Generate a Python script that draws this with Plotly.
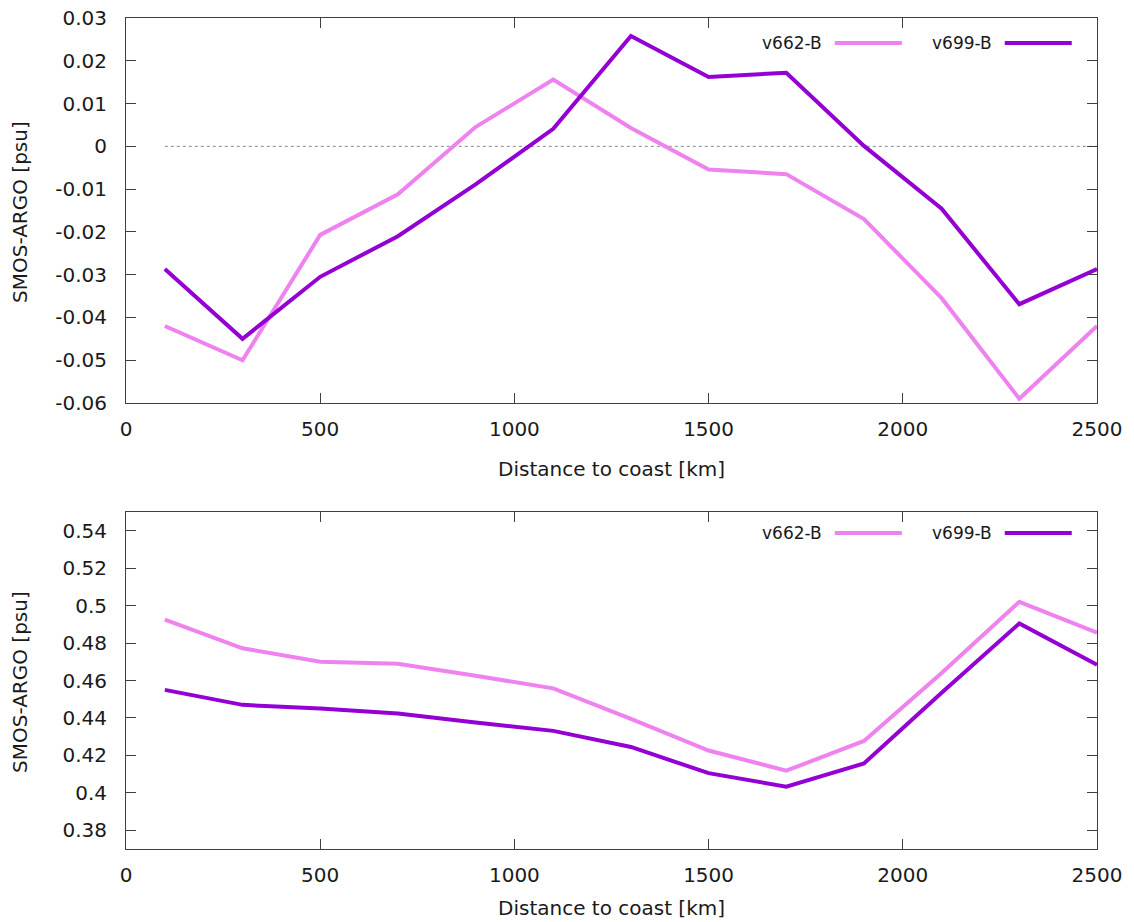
import plotly.graph_objects as go

distance_km = [100, 300, 500, 700, 900, 1100, 1300, 1500, 1700, 1900, 2100, 2300, 2500]

# Top panel: mean difference
top_v662 = [-0.0420, -0.0500, -0.0207, -0.0112, 0.0045, 0.0156, 0.0043, -0.0054, -0.0065,
            -0.0170, -0.0355, -0.0590, -0.0420]
top_v699 = [-0.0287, -0.0450, -0.0305, -0.0210, -0.0089, 0.0041, 0.0258, 0.0162, 0.0172,
            0.0001, -0.0146, -0.0369, -0.0287]

# Bottom panel
bot_v662 = [0.4925, 0.4772, 0.4700, 0.4690, 0.4625, 0.4558, 0.4395, 0.4226, 0.4118,
            0.4277, 0.4640, 0.5020, 0.4855]
bot_v699 = [0.4550, 0.4470, 0.4450, 0.4424, 0.4376, 0.4331, 0.4245, 0.4105, 0.4033,
            0.4157, 0.4535, 0.4905, 0.4684]

x_ticks = [0, 500, 1000, 1500, 2000, 2500]
x_ticktext = ["0", "500", "1000", "1500", "2000", "2500"]
top_yticks = [0.03, 0.02, 0.01, 0.0, -0.01, -0.02, -0.03, -0.04, -0.05, -0.06]
top_yticktext = ["0.03", "0.02", "0.01", "0", "-0.01", "-0.02", "-0.03", "-0.04", "-0.05", "-0.06"]
bot_yticks = [0.38, 0.40, 0.42, 0.44, 0.46, 0.48, 0.50, 0.52, 0.54]
bot_yticktext = ["0.38", "0.4", "0.42", "0.44", "0.46", "0.48", "0.5", "0.52", "0.54"]

series_names = ["v662-B", "v699-B"]
series_colors = ["#EE82EE", "#9400D3"]

FONT = "DejaVu Sans"
W, H = 1134, 922

fig = go.Figure()

# zero reference line (top panel)
fig.add_trace(go.Scatter(x=distance_km, y=[0] * len(distance_km), mode="lines",
                         line=dict(color="#888888", width=1, dash="dot"),
                         xaxis="x", yaxis="y", showlegend=False, hoverinfo="skip"))

for ys, name, col in [(top_v662, series_names[0], series_colors[0]),
                      (top_v699, series_names[1], series_colors[1])]:
    fig.add_trace(go.Scatter(x=distance_km, y=ys, mode="lines", name=name,
                             line=dict(color=col, width=4), xaxis="x", yaxis="y",
                             showlegend=False))
for ys, name, col in [(bot_v662, series_names[0], series_colors[0]),
                      (bot_v699, series_names[1], series_colors[1])]:
    fig.add_trace(go.Scatter(x=distance_km, y=ys, mode="lines", name=name,
                             line=dict(color=col, width=4), xaxis="x2", yaxis="y2",
                             showlegend=False))

xdom = [126 / W, 1097 / W]
ydom_top = [1 - 403 / H, 1 - 18 / H]
ydom_bot = [1 - 849 / H, 1 - 512 / H]

axis_common = dict(showline=True, linecolor="#404040", linewidth=1, mirror="allticks",
                   ticks="inside", ticklen=10, tickcolor="#404040", tickwidth=1,
                   showgrid=False, zeroline=False, automargin=False,
                   tickfont=dict(family=FONT, size=20, color="#1a1a1a"))

fig.update_layout(
    width=W, height=H,
    margin=dict(l=0, r=0, t=0, b=0),
    paper_bgcolor="white", plot_bgcolor="white",
    showlegend=False,
    xaxis=dict(domain=xdom, range=[0, 2500], anchor="y", tickvals=x_ticks, ticktext=x_ticktext,
               ticklabelstandoff=8, **axis_common),
    yaxis=dict(domain=ydom_top, range=[-0.06, 0.03], anchor="x", tickvals=top_yticks,
               ticktext=top_yticktext, ticklabelstandoff=14, **axis_common),
    xaxis2=dict(domain=xdom, range=[0, 2500], anchor="y2", tickvals=x_ticks, ticktext=x_ticktext,
                ticklabelstandoff=8, **axis_common),
    yaxis2=dict(domain=ydom_bot, range=[0.37, 0.55], anchor="x2", tickvals=bot_yticks,
                ticktext=bot_yticktext, ticklabelstandoff=14, **axis_common),
)

title_font = dict(family=FONT, size=20, color="#1a1a1a")
annotations = [
    dict(text="Distance to coast [km]", x=(126 + 1097) / 2 / W, y=1 - 469 / H, xref="paper",
         yref="paper", showarrow=False, font=title_font, xanchor="center", yanchor="middle"),
    dict(text="Distance to coast [km]", x=(126 + 1097) / 2 / W, y=1 - 908 / H, xref="paper",
         yref="paper", showarrow=False, font=title_font, xanchor="center", yanchor="middle"),
    dict(text="SMOS-ARGO [psu]", x=20 / W, y=1 - 212 / H, xref="paper", yref="paper",
         showarrow=False, font=title_font, textangle=-90, xanchor="center", yanchor="middle"),
    dict(text="SMOS-ARGO [psu]", x=20 / W, y=1 - 682 / H, xref="paper", yref="paper",
         showarrow=False, font=title_font, textangle=-90, xanchor="center", yanchor="middle"),
]

shapes = []
legend_font = dict(family=FONT, size=17, color="#1a1a1a")
text_right = [0.719, 0.894]
line_span = [(0.730, 0.799), (0.905, 0.974)]
for xr, yr, ly in [("x domain", "y domain", 0.935), ("x2 domain", "y2 domain", 0.938)]:
    for i in range(2):
        annotations.append(dict(text=series_names[i], x=text_right[i], y=ly, xref=xr, yref=yr,
                                showarrow=False, font=legend_font, xanchor="right",
                                yanchor="middle"))
        shapes.append(dict(type="line", x0=line_span[i][0], x1=line_span[i][1], y0=ly, y1=ly,
                           xref=xr, yref=yr, line=dict(color=series_colors[i], width=4)))

fig.update_layout(annotations=annotations, shapes=shapes)
fig.write_html("out.html", config={"displayModeBar": False},
               post_script="document.body.style.margin='0';document.body.style.overflow='hidden';")
